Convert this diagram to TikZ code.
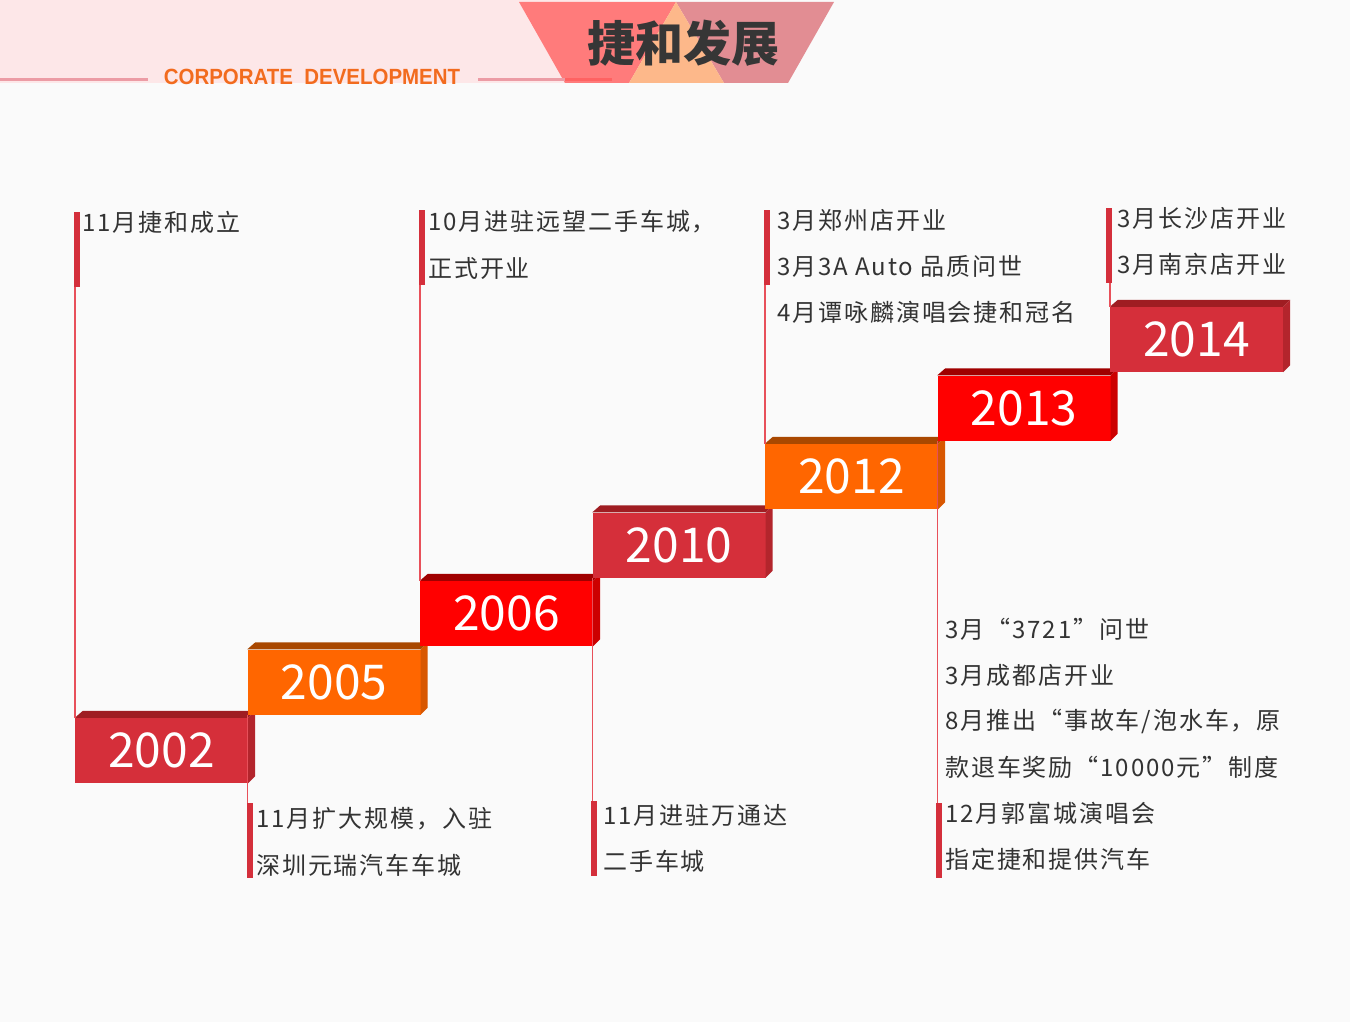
\documentclass[tikz,border=0pt]{standalone}
\usepackage{fontspec}
\setmainfont{Noto Sans CJK SC}
\newfontfamily\notefont[LetterSpace=8]{Noto Sans CJK SC}
\newfontfamily\latinfont{Liberation Sans}

\definecolor{bgwhite}{HTML}{FAFAFA}
\definecolor{headpink}{HTML}{FDE7E8}
\definecolor{trapred}{HTML}{FF7B7B}
\definecolor{trappink}{HTML}{E28D93}
\definecolor{trapamber}{HTML}{FDB88A}
\definecolor{headline}{HTML}{EC9CA5}
\definecolor{corpor}{HTML}{F26B1E}
\definecolor{titlegray}{HTML}{363636}
\definecolor{crim}{HTML}{D52F3A}
\definecolor{crimtop}{HTML}{9F1D22}
\definecolor{crimside}{HTML}{B3252C}
\definecolor{orng}{HTML}{FF6600}
\definecolor{orngtop}{HTML}{A94800}
\definecolor{orngside}{HTML}{D85700}
\definecolor{pure}{HTML}{FF0000}
\definecolor{puretop}{HTML}{A00000}
\definecolor{pureside}{HTML}{CC0000}
\definecolor{barred}{HTML}{D42F3B}
\definecolor{stemred}{HTML}{E8505A}
\definecolor{notegray}{HTML}{333333}

\tikzset{
  yearbox/.style={minimum width=173pt, minimum height=65pt, inner sep=0pt,
    text=white, font=\fontsize{48}{48}\selectfont},
  tagbar/.style={fill=barred, minimum width=6pt, minimum height=75pt,
    inner sep=0pt, anchor=north west},
  stem/.style={draw=stemred, line width=1.5pt},
  note/.style={anchor=west, inner sep=0pt, text=notegray,
    font=\notefont\fontsize{24}{24}\selectfont},
}

\begin{document}
\begin{tikzpicture}[x=1pt, y=-1pt]
    \useasboundingbox (0,0) rectangle (1350,1022);
    \fill[bgwhite] (0,0) rectangle (1350,1022);

    % Header band
    \fill[headpink] (0,0) rectangle (600,83);
    \fill[trapred] (519,2) -- (676,2) -- (629,83) -- (565,83) -- cycle;
    \fill[trappink] (676,2) -- (834,2) -- (788,83) -- (724,83) -- cycle;
    \fill[trapamber] (676,2) -- (724,83) -- (629,83) -- cycle;
    \draw[headline, line width=3pt] (0,80) -- (148,80);
    \draw[headline, line width=3pt] (478,80) -- (612,80);
    \draw[trapred!80!red, line width=3pt] (565,80) -- (612,80);
    \node[text=corpor, font=\latinfont\bfseries\fontsize{22}{22}\selectfont] (subtitle) at (312,77)
        {\scalebox{0.93}[1]{CORPORATE\ \ DEVELOPMENT}};
    \node[text=titlegray, font=\bfseries\fontsize{48}{48}\selectfont] (title) at (683,43) {捷和发展};

    % Year steps
    \foreach \yr/\face/\topc/\sidec [count=\i from 0] in {2002/crim/crimtop/crimside,
        2005/orng/orngtop/orngside, 2006/pure/puretop/pureside, 2010/crim/crimtop/crimside,
        2012/orng/orngtop/orngside, 2013/pure/puretop/pureside, 2014/crim/crimtop/crimside} {
        \pgfmathsetmacro{\cx}{161.5 + 172.5*\i}
        \pgfmathsetmacro{\cy}{750.5 - 68.5*\i}
        \node[yearbox, fill=\face] (y\yr) at (\cx,\cy) {\yr};
        \fill[\topc] (y\yr.north west) -- ++(8,-7) -- ([shift={(7,-7)}]y\yr.north east)
            -- (y\yr.north east) -- cycle;
        \fill[\sidec] (y\yr.north east) -- ++(7,-7) -- ([shift={(7,-7)}]y\yr.south east)
            -- (y\yr.south east) -- cycle;
    }

    % 2002
    \node[tagbar] (b2002) at (74,212) {};
    \draw[stem] (y2002.north west) -- (b2002.south -| y2002.north west);
    \node[note] (e2002l0) at (82,222) {11月捷和成立};

    % 2005
    \node[tagbar, anchor=south west] (b2005) at (247,878) {};
    \draw[stem] (y2005.south west) -- (b2005.north -| y2005.south west);
    \foreach \t [count=\k from 0] in {11月扩大规模，入驻, 深圳元瑞汽车车城}
        \node[note] (e2005l\k) at (256, 819+46*\k) {\t};

    % 2006
    \node[tagbar] (b2006) at (419,210) {};
    \draw[stem] (y2006.north west) -- (b2006.south -| y2006.north west);
    \foreach \t [count=\k from 0] in {10月进驻远望二手车城，, 正式开业}
        \node[note] (e2006l\k) at (428, 222+46*\k) {\t};

    % 2010
    \node[tagbar, anchor=south west] (b2010) at (591,876) {};
    \draw[stem] (y2010.south west) -- (b2010.north -| y2010.south west);
    \foreach \t [count=\k from 0] in {11月进驻万通达, 二手车城}
        \node[note] (e2010l\k) at (603, 815+46*\k) {\t};

    % 2012
    \node[tagbar] (b2012) at (764,210) {};
    \draw[stem] (y2012.north west) -- (b2012.south -| y2012.north west);
    \foreach \t [count=\k from 0] in {3月郑州店开业, 3月3A Auto 品质问世, 4月谭咏麟演唱会捷和冠名}
        \node[note] (e2012l\k) at (777, 220+46*\k) {\t};

    % 2013
    \node[tagbar, anchor=south west] (b2013) at (936,878) {};
    \draw[stem] (y2013.south west) -- (b2013.north -| y2013.south west);
    \foreach \t [count=\k from 0] in {3月“3721”问世, 3月成都店开业, 8月推出“事故车/泡水车，原,
        款退车奖励“10000元”制度, 12月郭富城演唱会, 指定捷和提供汽车}
        \node[note] (e2013l\k) at (945, 629+46*\k) {\t};

    % 2014
    \node[tagbar] (b2014) at (1106,208) {};
    \draw[stem] (y2014.north west) -- (b2014.south -| y2014.north west);
    \foreach \t [count=\k from 0] in {3月长沙店开业, 3月南京店开业}
        \node[note] (e2014l\k) at (1117, 218+46*\k) {\t};
\end{tikzpicture}
\end{document}
